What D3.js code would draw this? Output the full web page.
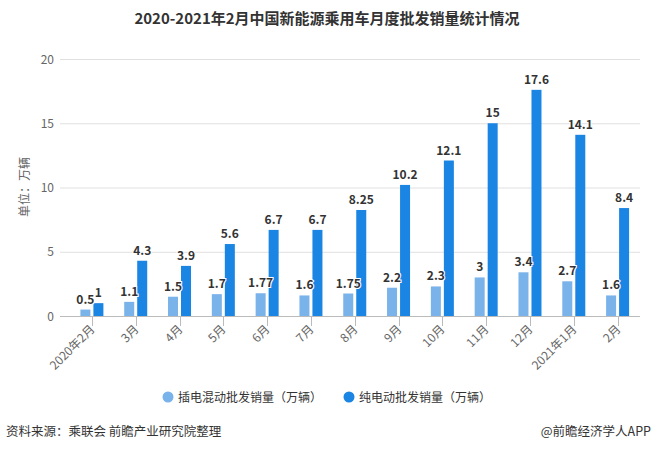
<!DOCTYPE html>
<html><head><meta charset="utf-8">
<script src="https://cdn.jsdelivr.net/npm/d3@7/dist/d3.min.js"></script>
<style>
body{margin:0;background:#fff;}
text{font-family:"Noto Sans CJK SC","Microsoft YaHei",sans-serif;}
</style></head>
<body><svg id="c" width="654" height="451"></svg>
<script>
const categories = ["2020年2月","3月","4月","5月","6月","7月","8月","9月","10月","11月","12月","2021年1月","2月"];
const phevValues = [0.5,1.1,1.5,1.7,1.77,1.6,1.75,2.2,2.3,3,3.4,2.7,1.6];
const bevValues  = [1,4.3,3.9,5.6,6.7,6.7,8.25,10.2,12.1,15,17.6,14.1,8.4];
const yTicks = [0,5,10,15,20];
const seriesNames = ["插电混动批发销量（万辆）","纯电动批发销量（万辆）"];
const colors = ["#7ab2ea","#1a85e3"];

const svg = d3.select("#c");
const x = d3.scaleBand().domain(categories).range([70,639.5]);
const y = d3.scaleLinear().domain([0,20]).range([316,59]);

svg.append("text").attr("x",327).attr("y",24).attr("text-anchor","middle")
  .attr("font-size",15).attr("font-weight","bold").attr("fill","#333")
  .text("2020-2021年2月中国新能源乘用车月度批发销量统计情况");

// grid
const grid = svg.append("g");
yTicks.forEach(t=>{
  grid.append("line").attr("x1",60).attr("x2",640).attr("y1",y(t)+0.5).attr("y2",y(t)+0.5)
    .attr("stroke", t===0 ? "#bbb" : "#e0e0e0").attr("stroke-width",1);
  grid.append("text").attr("x",54).attr("y",y(t)+4.5).attr("text-anchor","end")
    .attr("font-size",12).attr("fill","#666").text(t);
});
svg.append("text").attr("transform","translate(29,187) rotate(-90)").attr("text-anchor","middle")
  .attr("font-size",12).attr("fill","#666").text("单位：万辆");

// x ticks and labels
const xa = svg.append("g");
categories.forEach(c=>{
  const cx = Math.round(x(c)+x.bandwidth()/2)+0.5;
  xa.append("line").attr("x1",cx).attr("x2",cx).attr("y1",316).attr("y2",326).attr("stroke","#bbb");
  xa.append("text").attr("transform",`translate(${cx+3},${330}) rotate(-45)`).attr("text-anchor","end")
    .attr("font-size",12).attr("fill","#666").text(c);
});

const bw = 10, gap = 3;
const series = [phevValues, bevValues];
series.forEach((vals,si)=>{
  const g = svg.append("g");
  vals.forEach((v,i)=>{
    const cx = x(categories[i])+x.bandwidth()/2;
    const bx = si===0 ? cx - gap/2 - bw : cx + gap/2;
    g.append("rect").attr("x",bx).attr("y",y(v)).attr("width",bw).attr("height",316-y(v)).attr("fill",colors[si]);
  });
});
series.forEach((vals,si)=>{
  const g = svg.append("g");
  vals.forEach((v,i)=>{
    const cx = x(categories[i])+x.bandwidth()/2;
    const bx = si===0 ? cx - gap/2 - bw : cx + gap/2;
    g.append("text").attr("x",bx+bw/2).attr("y",y(v)-6).attr("text-anchor","middle")
      .attr("font-size",12).attr("font-weight","bold").attr("fill","#333")
      .attr("stroke","#fff").attr("stroke-width",2).attr("paint-order","stroke").text(v);
  });
});

// legend
const lg = svg.append("g");
const lx = [168,349];
seriesNames.forEach((n,i)=>{
  lg.append("circle").attr("cx",lx[i]).attr("cy",397).attr("r",5.5).attr("fill",colors[i]);
  lg.append("text").attr("x",lx[i]+10).attr("y",401.5).attr("font-size",12).attr("fill","#333").text(n);
});

svg.append("text").attr("x",6).attr("y",436).attr("font-size",12.5).attr("fill","#333").text("资料来源：乘联会 前瞻产业研究院整理");
svg.append("text").attr("x",651).attr("y",436).attr("text-anchor","end").attr("font-size",12.5).attr("fill","#333").text("@前瞻经济学人APP");
</script></body></html>
